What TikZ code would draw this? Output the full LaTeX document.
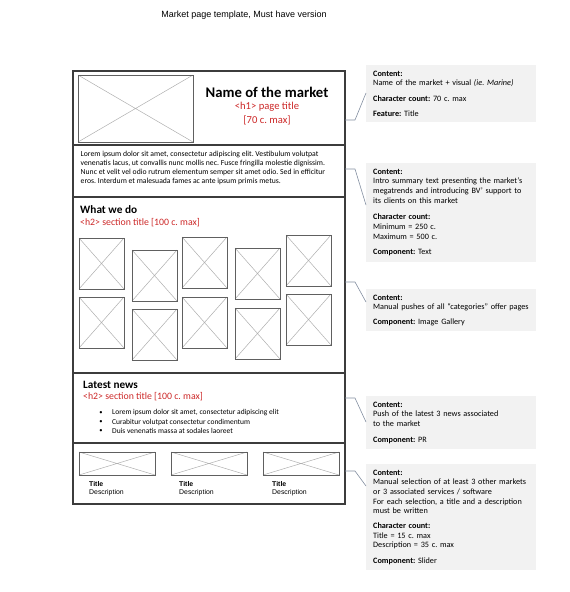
\documentclass[tikz,border=0pt]{standalone}
\usepackage{fontspec}
\setmainfont{Carlito}
\newfontfamily\arialfont{Liberation Sans}
\usetikzlibrary{positioning, calc}
\definecolor{framegray}{RGB}{60,60,60}
\definecolor{crossgray}{RGB}{175,175,175}
\definecolor{notegray}{RGB}{242,242,242}
\definecolor{linkgray}{RGB}{130,142,160}
\definecolor{htmlred}{RGB}{204,40,40}
\frenchspacing

\tikzset{
  frame/.style={draw=framegray, line width=1.2pt},
  imgborder/.style={draw=gray!75!black, line width=0.9pt},
  imgcross/.style={draw=crossgray, line width=0.5pt},
  note/.style={fill=notegray, anchor=north west, text width=156pt, inner xsep=7pt,
    inner ysep=5.5pt, align=left, font=\fontsize{8.2}{9.7}\selectfont},
  link/.style={draw=linkgray, line width=0.6pt},
  txt/.style={inner sep=0pt, anchor=west},
}

\begin{document}
\begin{tikzpicture}[x=1pt, y=-1pt]
\useasboundingbox (0,0) rectangle (570,592);
% Page title
\node[font=\arialfont\fontsize{9}{10}\selectfont] (title) at (244,15) {Market page template, Must have version};

% Wireframe
\draw[frame] (73,71) rectangle (345,504);
\draw[frame] (73,145) -- (345,145);
\draw[frame] (73,197) -- (345,197);
\draw[frame] (73,373) -- (345,373);
\draw[frame] (73,443) -- (345,443);

% Header
\draw[imgcross] (78,75) -- (193,142) (193,75) -- (78,142);
\draw[imgborder] (78,75) rectangle (193,142);
\node[font=\bfseries\fontsize{14.7}{16}\selectfont, inner sep=0pt] (name) at (267,92) {Name of the market};
\node[font=\fontsize{10.6}{12}\selectfont, text=htmlred, inner sep=0pt] (h1) at (267,107) {<h1> page title};
\node[font=\fontsize{10.6}{12}\selectfont, text=htmlred, inner sep=0pt] (h1max) at (267,120) {[70 c. max]};

% Intro
\node[txt, anchor=north west, align=left, font=\fontsize{7.7}{9}\selectfont] (intro) at (80.5,151)
  {Lorem ipsum dolor sit amet, consectetur adipiscing elit. Vestibulum volutpat\\
   venenatis lacus, ut convallis nunc mollis nec. Fusce fringilla molestie dignissim.\\
   Nunc et velit vel odio rutrum elementum semper sit amet odio. Sed in efficitur\\
   eros. Interdum et malesuada fames ac ante ipsum primis metus.};

% What we do
\node[txt, font=\bfseries\fontsize{11.3}{13}\selectfont] (whatwedo) at (80,210) {What we do};
\node[txt, font=\fontsize{9.8}{11}\selectfont, text=htmlred] (h2a) at (80,223) {<h2> section title [100 c. max]};
\foreach \x/\y in {79/238, 79/297, 132/250, 132/309, 182/237, 182/297, 235/248, 235/308, 286/235, 286/294} {
  \draw[imgcross] (\x,\y) -- ++(45,51) (\x+45,\y) -- ++(-45,51);
  \draw[imgborder] (\x,\y) rectangle ++(45,51);
}

% Latest news
\node[txt, font=\bfseries\fontsize{11.2}{13}\selectfont] (news) at (83,385) {Latest news};
\node[txt, font=\fontsize{9.8}{11}\selectfont, text=htmlred] (h2b) at (83,397) {<h2> section title [100 c. max]};
\foreach \y/\t in {413/{Lorem ipsum dolor sit amet, consectetur adipiscing elit},
                   422/{Curabitur volutpat consectetur condimentum},
                   431/{Duis venenatis massa at sodales laoreet}} {
  \node[inner sep=0pt, font=\fontsize{6.5}{7}\selectfont] at (101,\y) {\textbullet};
  \node[txt, font=\fontsize{7.5}{8}\selectfont] at (112,\y) {\t};
}

% Slider
\foreach \x/\tx in {79/89, 171/179, 263/272} {
  \draw[imgcross] (\x,452) -- ++(76,23) (\x+76,452) -- ++(-76,23);
  \draw[imgborder] (\x,452) rectangle ++(76,23);
  \node[txt, font=\arialfont\bfseries\fontsize{6.9}{8}\selectfont] at (\tx,484) {Title};
  \node[txt, font=\arialfont\fontsize{6.9}{8}\selectfont] at (\tx,493) {Description};
}

% Notes
\node[note] (note1) at (366,65)
  {\textbf{Content:}\\ Name of the market + visual \textit{(ie. Marine)}\\[6pt]
   \textbf{Character count:} 70 c. max\\[5pt]
   \textbf{Feature:} Title};
\node[note] (note2) at (366,163)
  {\textbf{Content:}\\ Intro summary text presenting the market’s\\ megatrends and introducing BV’ support to\\ its clients on this market\\[7pt]
   \textbf{Character count:}\\ Minimum = 250 c.\\ Maximum = 500 c.\\[6pt]
   \textbf{Component:} Text};
\node[note] (note3) at (366,289)
  {\textbf{Content:}\\ Manual pushes of all “categories” offer pages\\[5pt]
   \textbf{Component:} Image Gallery};
\node[note] (note4) at (366,396)
  {\textbf{Content:}\\ Push of the latest 3 news associated\\ to the market\\[6pt]
   \textbf{Component:} PR};
\node[note] (note5) at (366,464)
  {\textbf{Content:}\\ Manual selection of at least 3 other markets\\ or 3 associated services / software\\ For each selection, a title and a description\\ must be written\\[5pt]
   \textbf{Character count:}\\ Title = 15 c. max\\ Description = 35 c. max\\[6pt]
   \textbf{Component:} Slider};

% Connectors
\coordinate (hook1) at (345,120);
\coordinate (hook2) at (345,169);
\coordinate (hook3) at (345,282);
\coordinate (hook4) at (345,398);
\coordinate (hook5) at (345,471);
\draw[link] (hook1) -- ++(10,0) -- ($(note1.north west)+(0,28)$);
\draw[link] (hook2) -- ++(10,0) -- ($(note2.north west)+(0,42)$);
\draw[link] (hook3) -- ++(10,0) -- ($(note3.north west)+(0,13)$);
\draw[link] (hook4) -- ++(10,0) -- ($(note4.north west)+(0,26)$);
\draw[link] (hook5) -- ++(10,0) -- ($(note5.north west)+(0,22)$);
\end{tikzpicture}
\end{document}
